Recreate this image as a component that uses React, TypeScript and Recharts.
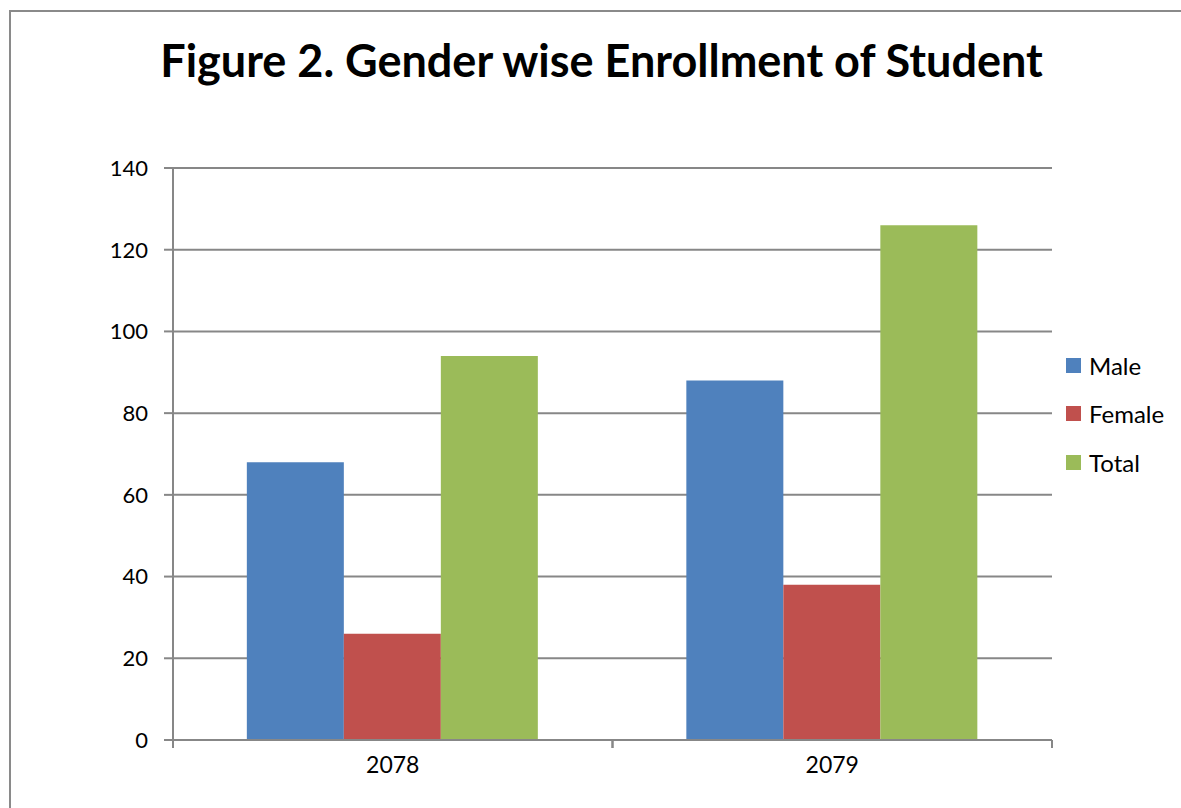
import React from "react";
import { BarChart, Bar, XAxis, YAxis, CartesianGrid } from "recharts";

const categories = ["2078", "2079"];
const maleValues = [68, 88];
const femaleValues = [26, 38];
const totalValues = [94, 126];
const yTicks = [0, 20, 40, 60, 80, 100, 120, 140];

const seriesDefs = [
  { key: "Male", color: "#4F81BD" },
  { key: "Female", color: "#C0504D" },
  { key: "Total", color: "#9BBB59" },
];

const data = categories.map((c, i) => ({
  year: c,
  Male: maleValues[i],
  Female: femaleValues[i],
  Total: totalValues[i],
}));

const FONT = "Lato, 'Open Sans', sans-serif";
const GRAY = "#878787";

const XTick = (props: any) => {
  const { x, y, payload } = props;
  const off = payload && payload.offset ? payload.offset : 0;
  return (
    <g>
      <line x1={x - off} x2={x - off} y1={y - 18} y2={y - 10} stroke={GRAY} strokeWidth={2} />
      <line x1={x + off} x2={x + off} y1={y - 18} y2={y - 10} stroke={GRAY} strokeWidth={2} />
      <text x={x} y={y} dy={15} textAnchor="middle" fontFamily={FONT} fontSize={23} fill="#000">
        {payload.value}
      </text>
    </g>
  );
};

export default function App() {
  return (
    <div style={{ position: "fixed", left: 0, top: 0, width: 1181, height: 808, overflow: "hidden", background: "#fff" }}>
      <div
        style={{
          position: "absolute",
          left: 9,
          top: 10,
          width: 1300,
          height: 1000,
          border: "2px solid #8a8a8a",
        }}
      />
      <div
        style={{
          position: "absolute",
          left: 0,
          width: 1203,
          top: 33,
          textAlign: "center",
          fontFamily: FONT,
          fontWeight: 700,
          fontSize: 45,
          color: "#000",
          whiteSpace: "nowrap",
        }}
      >
        Figure 2. Gender wise Enrollment of Student
      </div>
      <div style={{ position: "absolute", left: 0, top: 0 }}>
        <BarChart
          width={1181}
          height={808}
          data={data}
          margin={{ top: 168, right: 129, bottom: 28, left: 0 }}
          barCategoryGap="16.8%"
          barGap={0}
        >
          <CartesianGrid vertical={false} stroke={GRAY} strokeWidth={2} />
          <XAxis
            dataKey="year"
            height={40}
            axisLine={{ stroke: GRAY, strokeWidth: 2 }}
            tickLine={false}
            tickSize={0}
            tickMargin={18}
            tick={<XTick />}
          />
          <YAxis
            width={173}
            domain={[0, 140]}
            ticks={yTicks}
            interval={0}
            axisLine={{ stroke: GRAY, strokeWidth: 2 }}
            tickLine={{ stroke: GRAY, strokeWidth: 2 }}
            tickSize={9}
            tickMargin={16}
            tick={{ fontFamily: FONT, fontSize: 22, fill: "#000" }}
          />
          {seriesDefs.map((s) => (
            <Bar key={s.key} dataKey={s.key} fill={s.color} isAnimationActive={false} />
          ))}
        </BarChart>
      </div>
      <div style={{ position: "absolute", left: 1066, top: 341, fontFamily: FONT, fontSize: 24, color: "#000" }}>
        {seriesDefs.map((s) => (
          <div key={s.key} style={{ display: "flex", alignItems: "center", height: 48.5 }}>
            <span style={{ display: "inline-block", width: 15, height: 15, background: s.color, marginRight: 8 }} />
            <span>{s.key}</span>
          </div>
        ))}
      </div>
    </div>
  );
}
